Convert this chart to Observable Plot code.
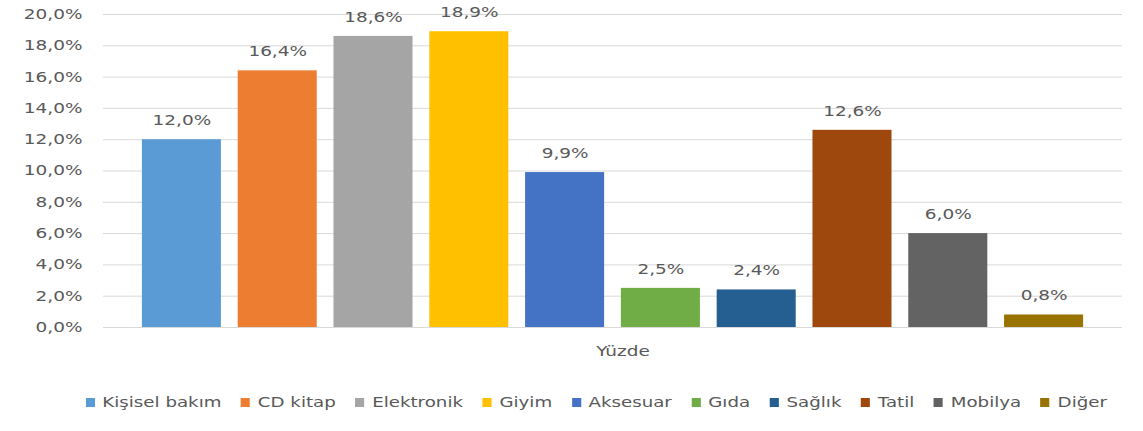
<!DOCTYPE html>
<html><head><meta charset="utf-8">
<script src="https://cdn.jsdelivr.net/npm/d3@7"></script>
<script src="https://cdn.jsdelivr.net/npm/@observablehq/plot@0.6"></script>
<style>
body{margin:0;background:#fff;font-family:"DejaVu Sans",sans-serif;overflow:hidden;}
#legend{display:flex;justify-content:center;gap:0 15px;font-size:14px;color:#595959;margin-top:24px;padding-left:38px;transform:scaleX(1.3);}
#legend span{display:inline-flex;align-items:center;white-space:nowrap;}
#legend i{display:inline-block;width:7px;height:9px;margin-right:6px;flex:none;}
</style></head>
<body>
<div id="chart"></div>
<div id="legend"></div>
<script>
const categories = ["Kişisel bakım","CD kitap","Elektronik","Giyim","Aksesuar","Gıda","Sağlık","Tatil","Mobilya","Diğer"];
const values = [12.0,16.4,18.6,18.9,9.9,2.5,2.4,12.6,6.0,0.8];
const colors = ["#5B9BD5","#ED7D31","#A5A5A5","#FFC000","#4472C4","#70AD47","#255E91","#9E480E","#636363","#997300"];
const yTicks = [0,2,4,6,8,10,12,14,16,18,20];
const axisTitle = "Yüzde";

const data = categories.map((c,i)=>({cat:c, v:values[i]}));
const fmt = d => d.toFixed(1).replace(".", ",") + "%";

const chart = Plot.plot({
  width: 1143, height: 370,
  marginTop: 14, marginBottom: 43, marginLeft: 103, marginRight: 21,
  style: {fontFamily: "DejaVu Sans, sans-serif", fontSize: "14px", color: "#595959"},
  x: {domain: categories, paddingInner: 0.175, paddingOuter: 0.406, round: false, axis: null},
  y: {domain: [0,20], ticks: yTicks, tickFormat: fmt, label: null, tickSize: 0, tickPadding: 21},
  color: {domain: categories, range: colors},
  marks: [
    Plot.ruleY(yTicks, {stroke: "#d9d9d9", strokeWidth: 1}),
    Plot.barY(data, {x: "cat", y: "v", fill: "cat"}),
    Plot.text(data, {x: "cat", y: "v", text: d => fmt(d.v), dy: -19, fill: "#595959", fontSize: 14}),
    Plot.text([axisTitle], {frameAnchor: "bottom", dx: 10, dy: 28, text: d => d, fill: "#595959", fontSize: 14})
  ]
});
document.getElementById("chart").append(chart);

// horizontally widen text around its anchor point, as in the reference
const S = 1.32;
chart.querySelectorAll("text").forEach(t => {
  const tr = t.getAttribute("transform");
  if (tr && /^translate/.test(tr)) {
    t.setAttribute("transform", tr + ` scale(${S},1)`);
  } else {
    const x = +(t.getAttribute("x") || 0);
    t.setAttribute("transform", `translate(${x},0) scale(${S},1) translate(${-x},0)` + (tr ? " " + tr : ""));
  }
});

const lg = document.getElementById("legend");
categories.forEach((c,i)=>{
  const s = document.createElement("span");
  s.innerHTML = `<i style="background:${colors[i]}"></i>${c}`;
  lg.append(s);
});
</script>
</body></html>
